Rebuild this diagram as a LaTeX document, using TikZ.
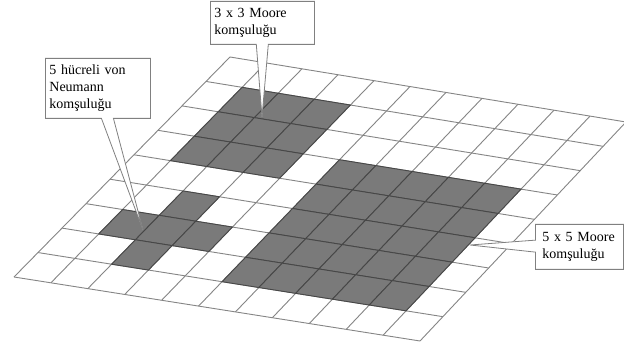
\documentclass[tikz,border=0pt]{standalone}
\usepackage{fontspec}
\setmainfont{Liberation Serif}
\usetikzlibrary{calc,shapes.callouts}

\newcommand{\shadecell}[2]{%
  \pgfmathtruncatemacro\rnext{#1+1}%
  \pgfmathtruncatemacro\cnext{#2+1}%
  \draw[darkcell] (g-#1-#2) -- (g-#1-\cnext) -- (g-\rnext-\cnext) -- (g-\rnext-#2) -- cycle;%
}

\begin{document}
\begin{tikzpicture}[
    x=1pt, y=-1pt,
    font=\fontsize{14}{17}\selectfont,
    gridline/.style={draw=black!48, line width=0.9pt},
    darkcell/.style={draw=black!72, fill=black!52, line width=0.9pt},
    labelbox/.style={rectangle callout, draw=black!50, fill=white, line width=0.8pt, align=left, inner xsep=4pt, inner ysep=5pt, anchor=north west, callout pointer width=12pt},
  ]
  \useasboundingbox (0,0) rectangle (624,352);
  \coordinate (TL) at (230,57);
  \coordinate (TR) at (626,122);
  \coordinate (BL) at (14,277);
  \coordinate (BR) at (420,341);
  \foreach \r in {0,...,9}
    \foreach \c in {0,...,11}
      \coordinate (g-\r-\c) at ($($(TL)!\c/11!(TR)$)!\r/9!($(BL)!\c/11!(BR)$)$);
  \fill[white] (TL) -- (TR) -- (BR) -- (BL) -- cycle;
  \foreach \r in {0,...,9}
    \draw[gridline] (g-\r-0) -- (g-\r-11);
  \foreach \c in {0,...,11}
    \draw[gridline] (g-0-\c) -- (g-9-\c);
  \foreach \r in {1,2,3}
    \foreach \c in {1,2,3}
      \shadecell{\r}{\c};
  \foreach \r/\c in {5/2,6/1,6/2,6/3,7/2}
    \shadecell{\r}{\c};
  \foreach \r in {3,...,7}
    \foreach \c in {5,...,9}
      \shadecell{\r}{\c};
  \coordinate (tipmoore) at (262,117);
  \coordinate (tipneumann) at (143,230);
  \coordinate (tipbig) at (470,245);
  \node[labelbox, text width=96pt, minimum height=43pt, callout absolute pointer={(tipmoore)}] (mooresmall) at (210,1) {3 x 3 Moore\\komşuluğu};
  \node[labelbox, text width=97pt, minimum height=60pt, callout absolute pointer={(tipneumann)}] (neumann) at (45,58) {5 hücreli von\\Neumann\\komşuluğu};
  \node[labelbox, inner xsep=7pt, text width=74pt, minimum height=45pt, callout absolute pointer={(tipbig)}] (moorebig) at (535,224) {5 x 5 Moore\\komşuluğu};
\end{tikzpicture}
\end{document}
